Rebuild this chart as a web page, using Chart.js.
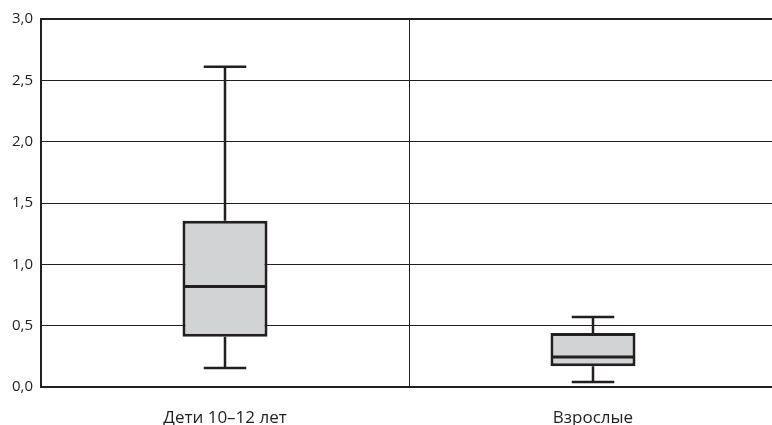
<!DOCTYPE html>
<html>
<head>
<meta charset="utf-8">
<script src="https://cdn.jsdelivr.net/npm/chart.js@4/dist/chart.umd.min.js"></script>
<style>
  html, body { margin: 0; padding: 0; background: #fff; overflow: hidden; }
  #wrap { position: relative; width: 777px; height: 425px; }
</style>
</head>
<body>
<div id="wrap"><canvas id="chart"></canvas></div>
<script>
// ─── Data ────────────────────────────────────────────────────
const categories  = ['Дети 10–12 лет', 'Взрослые'];
const whiskerLow  = [0.155, 0.04];
const quartile1   = [0.41, 0.17];
const medians     = [0.82, 0.245];
const quartile3   = [1.355, 0.44];
const whiskerHigh = [2.61, 0.57];
const yTickLabels = ['0,0', '0,5', '1,0', '1,5', '2,0', '2,5', '3,0'];

const INK  = '#231f20';
const FILL = '#d1d3d4';

// whiskers + median drawn on top of the floating bars
const boxWhiskers = {
  id: 'boxWhiskers',
  afterDatasetsDraw(chart) {
    const { ctx, scales: { y } } = chart;
    const bars = chart.getDatasetMeta(0).data;
    ctx.save();
    ctx.strokeStyle = INK;
    ctx.lineCap = 'butt';
    bars.forEach((bar, i) => {
      const half = bar.width / 2;
      const cap  = bar.width / 4;
      const yHi  = y.getPixelForValue(whiskerHigh[i]);
      const yLo  = y.getPixelForValue(whiskerLow[i]);
      const yQ3  = y.getPixelForValue(quartile3[i]);
      const yQ1  = y.getPixelForValue(quartile1[i]);
      const yMed = y.getPixelForValue(medians[i]);

      ctx.lineWidth = 2.5;
      ctx.beginPath();
      ctx.moveTo(bar.x, yQ3); ctx.lineTo(bar.x, yHi);
      ctx.moveTo(bar.x - cap, yHi); ctx.lineTo(bar.x + cap, yHi);
      ctx.moveTo(bar.x, yQ1); ctx.lineTo(bar.x, yLo);
      ctx.moveTo(bar.x - cap, yLo); ctx.lineTo(bar.x + cap, yLo);
      ctx.stroke();

      ctx.lineWidth = 3;
      ctx.beginPath();
      ctx.moveTo(bar.x - half + 1.5, yMed); ctx.lineTo(bar.x + half - 1.5, yMed);
      ctx.stroke();
    });
    ctx.restore();
  },
};

new Chart(document.getElementById('chart'), {
  type: 'bar',
  data: {
    labels: categories,
    datasets: [{
      data: categories.map((_, i) => [quartile1[i], quartile3[i]]),
      backgroundColor: FILL,
      borderColor: INK,
      borderWidth: 3,
      borderSkipped: false,
      barPercentage: 0.231,
      categoryPercentage: 1,
    }],
  },
  options: {
    responsive: true,
    maintainAspectRatio: false,
    animation: false,
    layout: { padding: { top: 19, right: 0, left: 0, bottom: 0 } },
    plugins: { legend: { display: false }, tooltip: { enabled: false } },
    scales: {
      x: {
        grid: { offset: true, color: INK, lineWidth: 1, drawTicks: false },
        border: { color: INK, width: 2 },
        ticks: {
          color: INK, padding: 21,
          font: { family: "'Open Sans', sans-serif", size: 17 },
        },
        afterFit: s => { s.height = 38; },
      },
      y: {
        min: 0, max: 3,
        grid: {
          color: INK, drawTicks: false,
          lineWidth: c => (c.tick && c.tick.value === 3 ? 2 : 1),
        },
        border: { color: INK, width: 2 },
        ticks: {
          stepSize: 0.5, color: INK, padding: 8,
          font: { family: "'Open Sans', sans-serif", size: 15 },
          callback: (v, i) => yTickLabels[i],
        },
        afterFit: s => { s.width = 41; },
      },
    },
  },
  plugins: [boxWhiskers],
});
</script>
</body>
</html>
